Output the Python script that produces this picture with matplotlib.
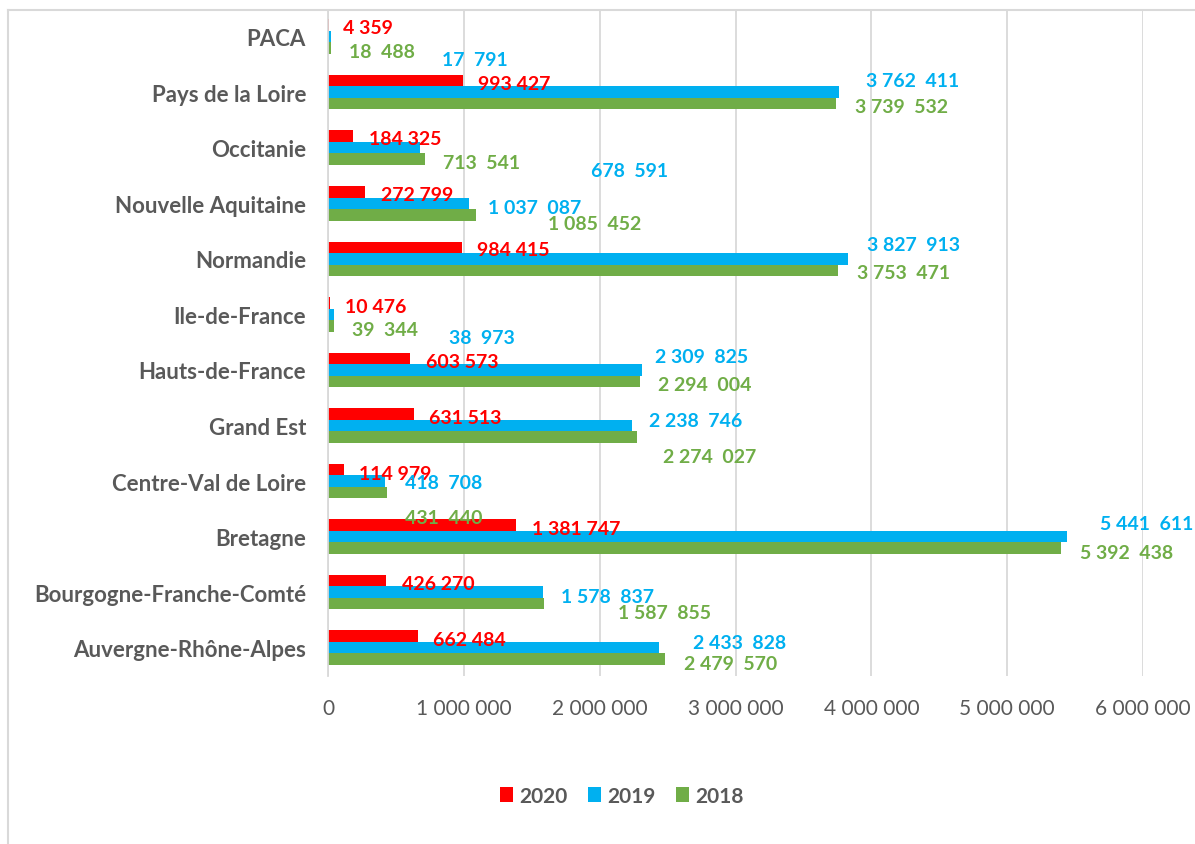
import numpy as np
import matplotlib.pyplot as plt
from matplotlib.lines import Line2D

# regions, bottom to top
regions = ["Auvergne-Rhône-Alpes", "Bourgogne-Franche-Comté", "Bretagne",
           "Centre-Val de Loire", "Grand Est", "Hauts-de-France", "Ile-de-France",
           "Normandie", "Nouvelle Aquitaine", "Occitanie", "Pays de la Loire", "PACA"]
v2020 = [662484, 426270, 1381747, 114979, 631513, 603573, 10476, 984415,
         272799, 184325, 993427, 4359]
v2019 = [2433828, 1578837, 5441611, 418708, 2238746, 2309825, 38973, 3827913,
         1037087, 678591, 3762411, 17791]
v2018 = [2479570, 1587855, 5392438, 431440, 2274027, 2294004, 39344, 3753471,
         1085452, 713541, 3739532, 18488]
years = ["2020", "2019", "2018"]
xticks = [0, 1000000, 2000000, 3000000, 4000000, 5000000, 6000000]

# label nudges (px right, px down) from the bar end, as placed in the original
off2020 = [(15, 2), (16, 1.5), (16, 2), (15, 2), (15, 2), (16, 2), (15, 2), (15, 1),
           (16, 1), (16, 1), (15, 1), (14, 1)]
off2019 = [(34, -7), (18, 3), (33, -15), (20, 0), (17, -6), (13, -15), (115, 22),
           (19, -16), (19, 3), (171, 21), (27, -13), (111, 21.5)]
off2018 = [(19, 3), (74, 7.5), (19, 3), (18, 23), (26, 18), (18, 2), (18, 2), (19, 1),
           (72, 7), (18, 2), (19, 1.5), (18, 2)]

colors = ["#FF0000", "#00B0F0", "#70AD47"]
grey = "#595959"
plt.rcParams['font.family'] = ['Lato', 'DejaVu Sans']

def fmt(v, wide=False):
    s = f"{v:,}".replace(",", " ")
    if wide and " " in s:
        i = s.rfind(" ")
        s = s[:i] + "  " + s[i + 1:]
    return s

fig = plt.figure(figsize=(11.95, 8.45), dpi=100)
ax = fig.add_axes([0.2747, 0.1988, 0.9565 - 0.2747, 0.987 - 0.1988])

y = np.arange(len(regions))
h = 0.207
series = [v2020, v2019, v2018]
offs = [off2020, off2019, off2018]
for k, (vals, col, offk) in enumerate(zip(series, colors, offs)):
    yy = y + h * (1 - k)
    ax.barh(yy, vals, height=h, color=col, label=years[k], zorder=3)
    for v, yi, (dx, dy) in zip(vals, yy, offk):
        ax.annotate(fmt(v, wide=(k > 0)), xy=(v, yi), xytext=(dx, -dy),
                    textcoords='offset pixels', ha='left', va='center_baseline',
                    color=col, fontsize=14, fontweight='bold',
                    annotation_clip=False, zorder=4)

ax.set_xlim(0, 6000000)
ax.set_ylim(-0.51, len(regions) - 1 + 0.48)
ax.set_xticks(xticks)
ax.set_xticklabels([fmt(t) for t in xticks], color=grey, fontsize=15)
ax.set_yticks(y)
ax.set_yticklabels(regions, color=grey, fontsize=16, fontweight='bold')
ax.tick_params(axis='x', length=0, pad=16)
ax.tick_params(axis='y', length=0, pad=16)
ax.grid(axis='x', color="#D9D9D9", lw=1.3, zorder=0)
for s in ["top", "right", "bottom"]:
    ax.spines[s].set_visible(False)
ax.spines["left"].set_color("#D9D9D9")
ax.spines["left"].set_linewidth(1.3)
ax.spines["left"].set_zorder(5)

fig.legend(loc='center', bbox_to_anchor=(0.5205, 0.0568), ncol=3, frameon=False,
           prop={'size': 15, 'weight': 'bold'}, labelcolor=grey,
           handlelength=0.6, handleheight=0.7, handletextpad=0.3, columnspacing=1.0)

# outer chart border (only left and top edges fall inside the image)
fig.add_artist(Line2D([8.3 / 1195, 8.3 / 1195], [0, 1 - 11 / 845], color="#D9D9D9", lw=1.5))
fig.add_artist(Line2D([8.3 / 1195, 1], [1 - 11 / 845, 1 - 11 / 845], color="#D9D9D9", lw=1.5))

fig.savefig("out.png", dpi=100)
